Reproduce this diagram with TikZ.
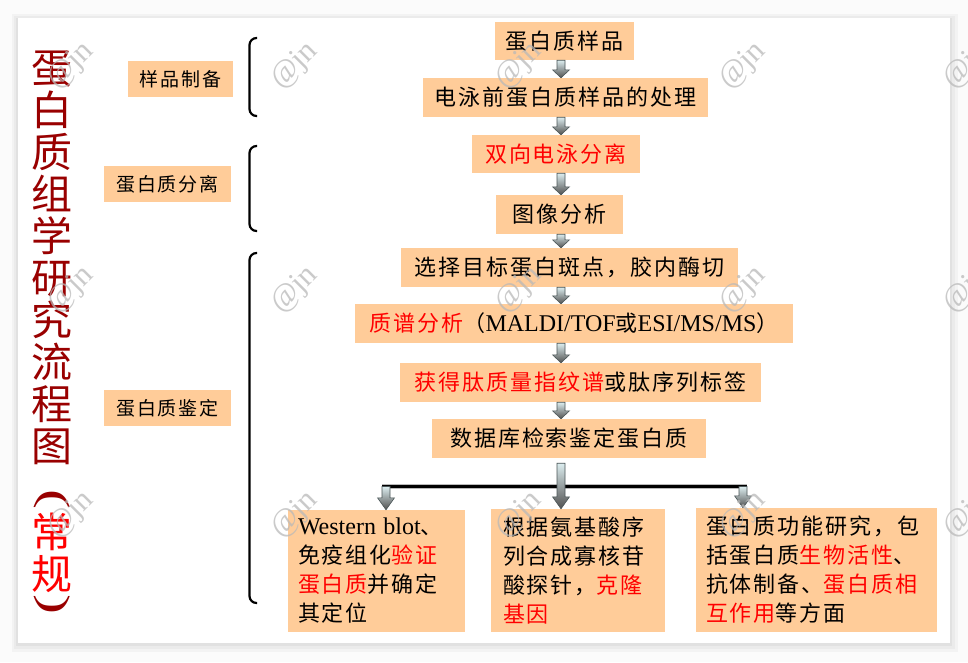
\documentclass[tikz,border=0pt]{standalone}
\usepackage{fontspec}
\setmainfont{Liberation Serif}
\newfontfamily\cjk[LetterSpace=9]{Noto Sans CJK SC}
\newfontfamily\cjkt{Noto Sans CJK SC}
\usetikzlibrary{calc}
\definecolor{boxfill}{HTML}{FFCC99}
\definecolor{titlered}{HTML}{990000}
\definecolor{hired}{HTML}{FF0000}
\definecolor{arrtop}{HTML}{DCEDEF}
\definecolor{arrbot}{HTML}{505050}
\definecolor{arrline}{HTML}{4A5557}
\newcommand\rd[1]{\textcolor{hired}{#1}}
\newcommand\latn[1]{{\rmfamily\fontsize{24}{29}\selectfont #1}}
\newcommand\barrow[3][8pt]{%
  \path[barrowstyle] let \p1=(#2), \p2=(#3) in
   (\x1-4pt,\y1) -- (\x1+4pt,\y1) -- (\x1+4pt,\y2+#1) -- (\x1+8.5pt,\y2+#1)
   -- (\x1,\y2) -- (\x1-8.5pt,\y2+#1) -- (\x1-4pt,\y2+#1) -- cycle;}
\tikzset{
  barrowstyle/.style={top color=arrtop, bottom color=arrbot, draw=arrline, line width=0.6pt},
  flow/.style={fill=boxfill, inner sep=0pt, font=\cjk\fontsize{22}{29}\selectfont},
  lab/.style={fill=boxfill, inner sep=0pt, minimum height=36pt, font=\cjk\fontsize{19}{19}\selectfont},
  bb/.style={fill=boxfill, inner sep=0pt, align=left, font=\cjk\fontsize{22}{29}\selectfont},
  bracket/.style={line width=2.2pt, rounded corners=7pt},
  ttl/.style={inner sep=0pt, align=center, font=\cjkt\fontsize{41}{42}\selectfont},
  paren/.style={inner sep=0pt, text=titlered, font=\rmfamily\fontsize{40}{40}\selectfont},
  wm/.style={rotate=45, text=gray!55, opacity=0.75, inner sep=0pt, font=\rmfamily\fontsize{31}{31}\selectfont}
}
\begin{document}
\begin{tikzpicture}[x=1pt,y=-1pt]
\useasboundingbox (0,0) rectangle (968,662);
% page and panel
\fill[gray!3] (0,0) rectangle (968,662);
\fill[black,opacity=0.03] (12,14) rectangle (958,652);
\fill[black,opacity=0.03] (14,16) rectangle (955,649);
\fill[black,opacity=0.04] (16,18) rectangle (952,646);
\fill[white] (18,18) rectangle (950,643);

% title
\node[ttl, text=titlered] (title) at (52,257.5) {蛋\\白\\质\\组\\学\\研\\究\\流\\程\\图};
\node[paren, rotate=-90, xscale=1.5] (po) at (52,499) {(};
\node[ttl, text=hired] (cg) at (52,552.5) {常\\规};
\node[paren, rotate=-90, xscale=1.5] (pc) at (52,604) {)};

% left labels
\node[lab, minimum width=105pt] (l1) at (180.5,79) {样品制备};
\node[lab, minimum width=127pt] (l2) at (167.5,184) {蛋白质分离};
\node[lab, minimum width=127pt] (l3) at (167.5,408) {蛋白质鉴定};

% brackets
\draw[bracket] (257,38) -- (249.5,38) -- (249.5,116) -- (257,116);
\draw[bracket] (257,146) -- (249.5,146) -- (249.5,231) -- (257,231);
\draw[bracket] (257,253) -- (249.5,253) -- (249.5,603) -- (257,603);

% flow boxes
\node[flow, minimum width=139pt, minimum height=38pt] (s1) at (564.5,41) {蛋白质样品};
\node[flow, minimum width=285pt, minimum height=39pt] (s2) at (565.5,97.5) {电泳前蛋白质样品的处理};
\node[flow, minimum width=168pt, minimum height=38pt] (s3) at (556,154) {\rd{双向电泳分离}};
\node[flow, minimum width=127pt, minimum height=39pt] (s4) at (559.5,214.5) {图像分析};
\node[flow, minimum width=337pt, minimum height=39pt] (s5) at (569.5,267.5) {选择目标蛋白斑点，胶内酶切};
\node[flow, minimum width=438pt, minimum height=39pt] (s6) at (574,323.5) {\rd{质谱分析}（\latn{MALDI/TOF}或\latn{ESI/MS/MS}）};
\node[flow, minimum width=361pt, minimum height=39pt] (s7) at (580.5,382.5) {\rd{获得肽质量指纹谱}或肽序列标签};
\node[flow, minimum width=274pt, minimum height=39pt] (s8) at (569,438.5) {数据库检索鉴定蛋白质};

% bottom boxes
\node[bb, minimum width=177pt, minimum height=122pt, text width=157pt] (b1) at (376.5,571)
  {\latn{Western blot}、\\免疫组化\rd{验证}\\\rd{蛋白质}并确定\\其定位};
\node[bb, minimum width=174pt, minimum height=123pt, text width=150pt] (b2) at (578,570.5)
  {根据氨基酸序\\列合成寡核苷\\酸探针，\rd{克隆}\\\rd{基因}};
\node[bb, minimum width=241pt, minimum height=124pt, text width=221pt] (b3) at (816.5,570)
  {蛋白质功能研究，包\\括蛋白质\rd{生物活性}、\\抗体制备、\rd{蛋白质相}\\\rd{互作用}等方面};

% arrows
\coordinate (ax) at (561,0);
\barrow{s1.south -| ax}{s2.north -| ax}
\barrow{s2.south -| ax}{s3.north -| ax}
\barrow{s3.south -| ax}{s4.north -| ax}
\barrow{s4.south -| ax}{s5.north -| ax}
\barrow{s5.south -| ax}{s6.north -| ax}
\barrow{s6.south -| ax}{s7.north -| ax}
\barrow{s7.south -| ax}{s8.north -| ax}

\coordinate (hl) at (386,486.5);
\coordinate (hr) at (743,486.5);
\draw[line width=5pt, gray!55] ($(hl)+(-4,0)$) -- ($(hr)+(4,0)$);
\draw[line width=3pt, black] ($(hl)+(-4,0)$) -- ($(hr)+(4,0)$);
\barrow[12pt]{$(s8.south -| ax)+(0,5)$}{b2.north -| ax}
\barrow[12pt]{hl}{b1.north -| hl}
\barrow[12pt]{hr}{b3.north -| hr}

% watermarks
\foreach \wx in {71,295,519,743,967}
  \foreach \wy in {66,290,515}
    \node[wm] (wm-\wx-\wy) at (\wx,\wy) {@jn};
\end{tikzpicture}
\end{document}
